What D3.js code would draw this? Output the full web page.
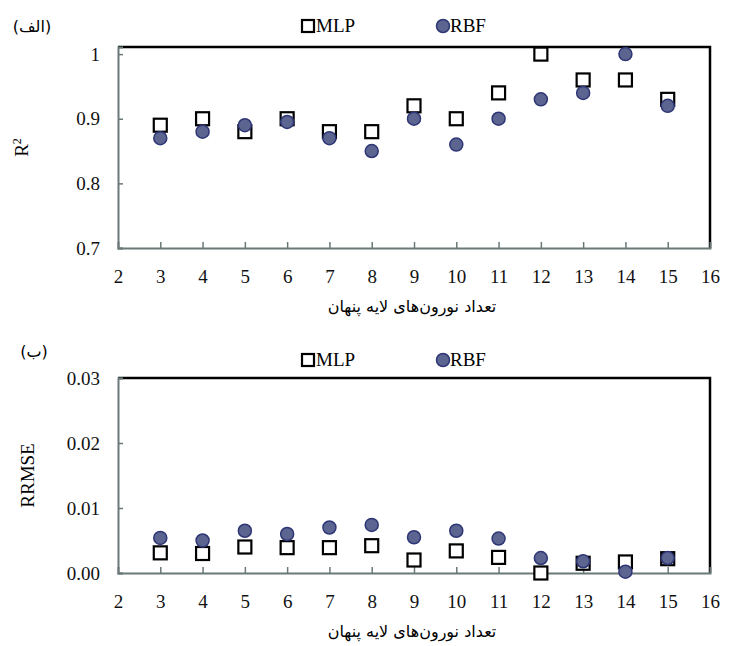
<!DOCTYPE html>
<html>
<head>
<meta charset="utf-8">
<script src="https://cdn.jsdelivr.net/npm/d3@7"></script>
<style>
  body { margin: 0; background: #fff; }
</style>
</head>
<body>
<div id="chart"></div>
<script>
// Data
const neurons = [3, 4, 5, 6, 7, 8, 9, 10, 11, 12, 13, 14, 15]
const r2Mlp = [0.89, 0.90, 0.88, 0.90, 0.88, 0.88, 0.92, 0.90, 0.94, 1.00, 0.96, 0.96, 0.93]
const r2Rbf = [0.87, 0.88, 0.89, 0.895, 0.87, 0.85, 0.90, 0.86, 0.90, 0.93, 0.94, 1.00, 0.92]
const rrmseMlp = [0.0031, 0.0030, 0.0040, 0.0039, 0.0039, 0.0042, 0.0020, 0.0034, 0.0024, 0.0000, 0.0015, 0.0017, 0.0022]
const rrmseRbf = [0.0054, 0.0050, 0.0065, 0.0060, 0.0070, 0.0074, 0.0055, 0.0065, 0.0053, 0.0023, 0.0018, 0.0002, 0.0023]
const xTicks = d3.range(2, 17)
const r2Ticks = [0.7, 0.8, 0.9, 1]
const rrmseTicks = [0, 0.01, 0.02, 0.03]
const xTitle = "تعداد نورون‌های لایه پنهان"

const W = 731, H = 646
const serif = "'Liberation Serif', 'DejaVu Serif', serif"
const axisGrey = "#6b7878"
const rbfFill = "#5b6590", rbfStroke = "#2e3676"

let svg = d3.select("#chart").append("svg")
    .attr("width", W).attr("height", H)

const x = d3.scaleLinear().domain([2, 16]).range([118, 710])

function panel(opts) {
    const g = svg.append("g")
    const y = d3.scaleLinear().domain(opts.domain).range([opts.bottom, opts.top])

    // frame: top + right black
    g.append("path")
        .attr("d", `M${x(2)},${opts.top}H${x(16)}V${opts.bottom}`)
        .attr("fill", "none").attr("stroke", "#000").attr("stroke-width", 2.5)

    // y axis (grey, ticks inward)
    const yAxis = g.append("g")
        .attr("transform", `translate(${x(2)},0)`)
        .call(d3.axisLeft(y).tickValues(opts.ticks).tickSize(-5).tickPadding(18).tickFormat(opts.fmt))
    yAxis.select(".domain").attr("stroke", axisGrey).attr("stroke-width", 2)
    yAxis.selectAll(".tick line").attr("stroke", axisGrey).attr("stroke-width", 1.5)
    yAxis.selectAll(".tick text").style("font-size", "19px").style("font-family", serif).attr("fill", "#111")

    // x axis (grey, ticks upward)
    const xAxis = g.append("g")
        .attr("transform", `translate(0,${opts.bottom})`)
        .call(d3.axisBottom(x).tickValues(xTicks).tickSize(-6).tickPadding(22))
    xAxis.select(".domain").attr("stroke", axisGrey).attr("stroke-width", 2)
    xAxis.selectAll(".tick line").attr("stroke", axisGrey).attr("stroke-width", 1.5)
        .attr("display", d => (d === 2 || d === 16) ? "none" : null)
    xAxis.selectAll(".tick text").style("font-size", "19px").style("font-family", serif).attr("fill", "#111")

    // axis titles
    g.append("text")
        .attr("x", 412).attr("y", opts.bottom + 64)
        .attr("text-anchor", "middle")
        .style("font-size", "16px").style("font-family", "'DejaVu Sans', sans-serif")
        .attr("direction", "rtl")
        .text(xTitle)

    g.append("text")
        .attr("transform", `translate(${opts.yLabelX},${(opts.top + opts.bottom) / 2}) rotate(-90)`)
        .attr("text-anchor", "middle")
        .style("font-size", "19px").style("font-family", serif)
        .call(t => opts.yLabel(t))

    // panel label
    g.append("text")
        .attr("x", opts.tagX).attr("y", opts.tagY)
        .attr("text-anchor", "middle")
        .style("font-size", "16px").style("font-family", "'DejaVu Sans', sans-serif")
        .text(opts.tag)

    // legend
    g.append("rect")
        .attr("x", 302).attr("y", opts.legendY - 6).attr("width", 12).attr("height", 12)
        .attr("fill", "#fff").attr("stroke", "#000").attr("stroke-width", 2.2)
    g.append("text").attr("x", 316).attr("y", opts.legendY + 6)
        .style("font-size", "19px").style("font-family", serif).text("MLP")
    g.append("circle")
        .attr("cx", 443).attr("cy", opts.legendY).attr("r", 6.5)
        .attr("fill", rbfFill).attr("stroke", rbfStroke).attr("stroke-width", 1.5)
    g.append("text").attr("x", 450).attr("y", opts.legendY + 6)
        .style("font-size", "19px").style("font-family", serif).text("RBF")

    // MLP squares
    g.selectAll("rect.mlp")
        .data(neurons.map((n, i) => [n, opts.mlp[i]]))
        .enter().append("rect")
        .attr("class", "mlp")
        .attr("x", d => x(d[0]) - 6.5).attr("y", d => y(d[1]) - 6.5)
        .attr("width", 13).attr("height", 13)
        .attr("fill", "#fff").attr("stroke", "#000").attr("stroke-width", 2.2)

    // RBF circles
    g.selectAll("circle.rbf")
        .data(neurons.map((n, i) => [n, opts.rbf[i]]))
        .enter().append("circle")
        .attr("class", "rbf")
        .attr("cx", d => x(d[0])).attr("cy", d => y(d[1])).attr("r", 6.5)
        .attr("fill", rbfFill).attr("stroke", rbfStroke).attr("stroke-width", 1.5)
}

panel({
    domain: [0.7, 1.011], top: 47, bottom: 248, ticks: r2Ticks,
    fmt: d => d === 1 ? "1" : d3.format(".1f")(d),
    mlp: r2Mlp, rbf: r2Rbf, legendY: 26,
    tag: "(الف)", tagX: 32, tagY: 32, yLabelX: 28,
    yLabel: t => { t.append("tspan").text("R"); t.append("tspan").style("font-size", "12px").attr("dy", -7).text("2") }
})

panel({
    domain: [0, 0.03], top: 378, bottom: 573, ticks: rrmseTicks,
    fmt: d3.format(".2f"),
    mlp: rrmseMlp, rbf: rrmseRbf, legendY: 360,
    tag: "(ب)", tagX: 34, tagY: 357, yLabelX: 34,
    yLabel: t => t.text("RRMSE")
})
</script>
</body>
</html>
